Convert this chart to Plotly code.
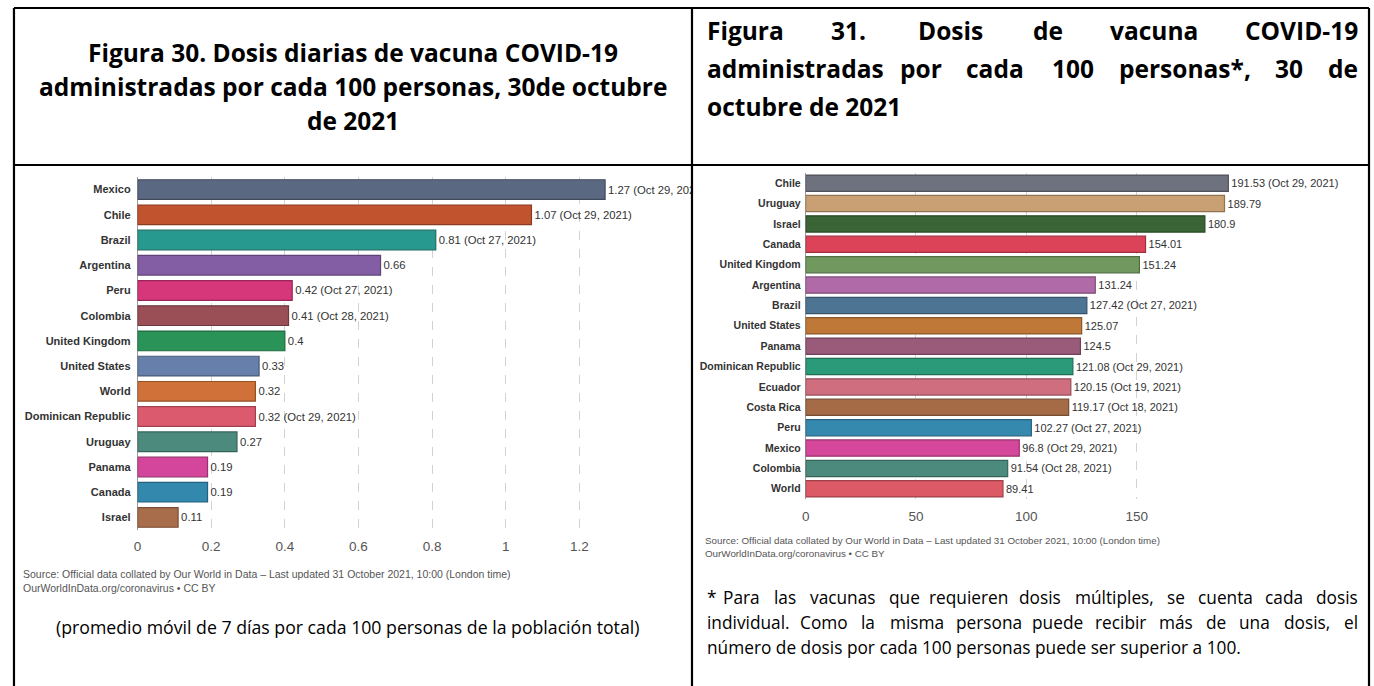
import plotly.graph_objects as go

W, H = 1374, 686

# ---- Figura 30: dosis diarias por cada 100 personas ----
paises_30 = ["Mexico", "Chile", "Brazil", "Argentina", "Peru", "Colombia", "United Kingdom",
             "United States", "World", "Dominican Republic", "Uruguay", "Panama", "Canada", "Israel"]
dosis_30 = [1.27, 1.07, 0.81, 0.66, 0.42, 0.41, 0.4, 0.33, 0.32, 0.32, 0.27, 0.19, 0.19, 0.11]
fechas_30 = ["Oct 29, 2021", "Oct 29, 2021", "Oct 27, 2021", "", "Oct 27, 2021", "Oct 28, 2021", "",
             "", "", "Oct 29, 2021", "", "", "", ""]
colores_30 = ["#5a6882", "#c1532f", "#27998e", "#845ea5", "#d6367a", "#9a4f56", "#2a9358",
              "#6680ab", "#cf7138", "#dc5a6e", "#4d8a7e", "#d4469b", "#3388ae", "#a86d4b"]
ticks_30 = [0, 0.2, 0.4, 0.6, 0.8, 1, 1.2]
ticktext_30 = ["0", "0.2", "0.4", "0.6", "0.8", "1", "1.2"]

# ---- Figura 31: dosis acumuladas por cada 100 personas ----
paises_31 = ["Chile", "Uruguay", "Israel", "Canada", "United Kingdom", "Argentina", "Brazil",
             "United States", "Panama", "Dominican Republic", "Ecuador", "Costa Rica", "Peru",
             "Mexico", "Colombia", "World"]
dosis_31 = [191.53, 189.79, 180.9, 154.01, 151.24, 131.24, 127.42, 125.07, 124.5, 121.08,
            120.15, 119.17, 102.27, 96.8, 91.54, 89.41]
fechas_31 = ["Oct 29, 2021", "", "", "", "", "", "Oct 27, 2021", "", "", "Oct 29, 2021",
             "Oct 19, 2021", "Oct 18, 2021", "Oct 27, 2021", "Oct 29, 2021", "Oct 28, 2021", ""]
colores_31 = ["#6e727e", "#c9a074", "#3a6436", "#dc4358", "#71985e", "#b06aa8", "#4e7494",
              "#c07839", "#9a5b7b", "#2a9a78", "#cf6e7e", "#a56b46", "#3589ae", "#d4479a",
              "#4d8a7e", "#db5a66"]
ticks_31 = [0, 50, 100, 150]
ticktext_31 = ["0", "50", "100", "150"]

TITULO_30 = ["Figura 30. Dosis diarias de vacuna COVID-19",
             "administradas por cada 100 personas, 30de octubre",
             "de 2021"]
TITULO_31 = ["Figura 31. Dosis de vacuna COVID-19",
             "administradas por cada 100 personas*, 30 de",
             "octubre de 2021"]
NOTA_30 = "(promedio móvil de 7 días por cada 100 personas de la población total)"
NOTA_31 = ["* Para las vacunas que requieren dosis múltiples, se cuenta cada dosis",
           "individual. Como la misma persona puede recibir más de una dosis, el",
           "número de dosis por cada 100 personas puede ser superior a 100."]
FUENTE = ("Source: Official data collated by Our World in Data – Last updated 31 October 2021, "
          "10:00 (London time)<br>OurWorldInData.org/coronavirus • CC BY")

FONT_OWID = "Liberation Sans, Arial, sans-serif"
FONT_DOC = "Open Sans, Carlito, Calibri, sans-serif"


def px(x):
    return x / W


def py(y):
    return 1 - y / H


def oscurecer(hex_color, f=0.72):
    h = hex_color.lstrip("#")
    r, g, b = (int(h[i:i + 2], 16) for i in (0, 2, 4))
    return "#%02x%02x%02x" % (int(r * f), int(g * f), int(b * f))


def etiquetas(valores, fechas):
    return [f"{v} ({d})" if d else f"{v}" for v, d in zip(valores, fechas)]


def ancho_palabra(palabra, size, bold=False):
    # estimacion grosera del ancho de una palabra (em por caracter)
    total = 0
    for c in palabra:
        if c in "ilI.,:;!|'tfjr()*-":
            total += 0.3
        elif c in "mwMW":
            total += 0.85
        elif c.isupper():
            total += 0.65
        else:
            total += 0.55
    return total * size * (1.08 if bold else 1.0)


fig = go.Figure()

fig.add_trace(go.Bar(
    x=dosis_30, y=paises_30, orientation="h", width=0.78,
    marker=dict(color=colores_30, line=dict(color=[oscurecer(c) for c in colores_30], width=1.2)),
    text=etiquetas(dosis_30, fechas_30), textposition="outside", cliponaxis=True,
    constraintext="none", textfont=dict(family=FONT_OWID, size=11.3, color="#333"),
    xaxis="x", yaxis="y", showlegend=False, hoverinfo="skip"
))

fig.add_trace(go.Bar(
    x=dosis_31, y=paises_31, orientation="h", width=0.8,
    marker=dict(color=colores_31, line=dict(color=[oscurecer(c) for c in colores_31], width=1.2)),
    text=etiquetas(dosis_31, fechas_31), textposition="outside", cliponaxis=True,
    constraintext="none", textfont=dict(family=FONT_OWID, size=11, color="#333"),
    xaxis="x2", yaxis="y2", showlegend=False, hoverinfo="skip"
))

eje_x = dict(showgrid=True, gridcolor="#d2d2d2", griddash="dash", gridwidth=1,
             zeroline=True, zerolinecolor="#9a9a9a", zerolinewidth=1,
             tickmode="array", ticks="",
             tickfont=dict(family=FONT_OWID, size=13.5, color="#555"))
eje_y = dict(autorange="reversed", showgrid=False, zeroline=False, ticks="")

# escala: 0 -> 134 px y 1.2 -> 577 px ; 0 -> 804 px y 150 -> 1136 px
ppu_30 = (577 - 134) / 1.2
ppu_31 = (1136 - 804) / 150

fig.update_layout(
    width=W, height=H, margin=dict(l=0, r=0, t=0, b=0),
    paper_bgcolor="white", plot_bgcolor="white",
    xaxis=dict(eje_x, domain=[px(134), px(689)], range=[0, (689 - 134) / ppu_30],
               tickvals=ticks_30, ticktext=ticktext_30, anchor="y", ticklabelstandoff=6),
    yaxis=dict(eje_y, domain=[py(530), py(177)], anchor="x", ticklabelstandoff=6,
               tickfont=dict(family=FONT_OWID, size=11, color="#333", weight="bold")),
    xaxis2=dict(eje_x, domain=[px(804), px(1366)], range=[0, (1366 - 804) / ppu_31],
                tickvals=ticks_31, ticktext=ticktext_31, anchor="y2", ticklabelstandoff=7),
    yaxis2=dict(eje_y, domain=[py(499), py(173)], anchor="x2", ticklabelstandoff=4,
                tickfont=dict(family=FONT_OWID, size=10.5, color="#333", weight="bold")),
)

anot = []

# titulo figura 30 (centrado)
for linea, y in zip(TITULO_30, [52, 86, 120]):
    anot.append(dict(x=px(350), y=py(y), text=f"<b>{linea}</b>", xanchor="center", yanchor="middle",
                     font=dict(family=FONT_DOC, size=24.5, color="black")))


def justificar(linea, x0, x1, y, size, bold):
    palabras = linea.split()
    anchos = [ancho_palabra(p, size, bold) for p in palabras]
    hueco = (x1 - x0 - sum(anchos)) / (len(palabras) - 1)
    cursor = x0
    for i, (p, a) in enumerate(zip(palabras, anchos)):
        t = f"<b>{p}</b>" if bold else p
        if i == 0:
            x, xa = x0, "left"
        elif i == len(palabras) - 1:
            x, xa = x1, "right"
        else:
            x, xa = cursor + a / 2, "center"
        anot.append(dict(x=px(x), y=py(y), text=t, xanchor=xa, yanchor="middle",
                         font=dict(family=FONT_DOC, size=size, color="black")))
        cursor += a + hueco


# titulo figura 31 (justificado)
justificar(TITULO_31[0], 703, 1360, 31, 24.5, True)
justificar(TITULO_31[1], 703, 1360, 69, 24.5, True)
anot.append(dict(x=px(703), y=py(106), text=f"<b>{TITULO_31[2]}</b>", xanchor="left", yanchor="middle",
                 font=dict(family=FONT_DOC, size=24.5, color="black")))

# fuentes
anot.append(dict(x=px(17), y=py(581), text=FUENTE, xanchor="left", yanchor="middle", align="left",
                 font=dict(family=FONT_OWID, size=10.5, color="#555")))
anot.append(dict(x=px(701), y=py(547), text=FUENTE, xanchor="left", yanchor="middle", align="left",
                 font=dict(family=FONT_OWID, size=9.8, color="#555")))

# notas
anot.append(dict(x=px(345), y=py(627), text=NOTA_30, xanchor="center", yanchor="middle",
                 font=dict(family=FONT_DOC, size=17.7, color="black")))
justificar(NOTA_31[0], 703, 1360, 597, 17.3, False)
justificar(NOTA_31[1], 703, 1360, 622, 17.3, False)
anot.append(dict(x=px(703), y=py(647), text=NOTA_31[2], xanchor="left", yanchor="middle",
                 font=dict(family=FONT_DOC, size=17.3, color="black")))

for a in anot:
    a.update(xref="paper", yref="paper", showarrow=False)
fig.update_layout(annotations=anot)

# bordes de la tabla
lineas = [
    (10, 8, 1369, 8),      # borde superior
    (10, 8, 10, 686),      # izquierda
    (690, 8, 690, 686),    # centro
    (1369, 8, 1369, 686),  # derecha
    (10, 165, 1369, 165),  # separador encabezado
]
for x0, y0, x1, y1 in lineas:
    fig.add_shape(type="line", xref="paper", yref="paper",
                  x0=px(x0), y0=py(y0), x1=px(x1), y1=py(y1),
                  line=dict(color="black", width=2.2))

# sin margen en el body y sin barra de herramientas
fig.write_html("out.html", config={"displayModeBar": False},
               post_script="document.body.style.margin='0px';")
